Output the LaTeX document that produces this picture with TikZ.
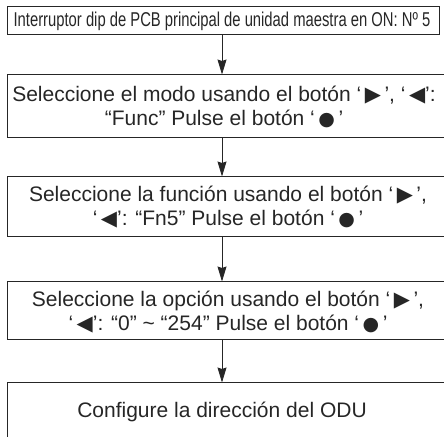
\documentclass[tikz,border=0pt]{standalone}
\usepackage{fontspec}
\setmainfont{Liberation Sans}
\newfontfamily\sym{DejaVu Sans}
\newfontfamily\cond[FakeStretch=0.74]{Liberation Sans}
\usetikzlibrary{arrows.meta}
\colorlet{ink}{black!85}
\tikzset{
  box/.style={draw=ink, line width=1pt, inner sep=0pt},
  txt/.style={text=ink, align=center, font=\fontsize{21}{24.5}\selectfont, inner sep=0pt},
  arr/.style={draw=ink, line width=0.9pt, -{Stealth[length=15pt,width=9pt,inset=1.5pt]}}
}
\newcommand{\rt}{\,{\sym\fontsize{21}{21}\selectfont\char"25B6}\,}
\newcommand{\lt}{\,{\sym\fontsize{21}{21}\selectfont\char"25C0}}
\newcommand{\dt}{\,{\sym\fontsize{19}{19}\selectfont\char"25CF}\,}
\begin{document}
\begin{tikzpicture}[x=1pt,y=1pt]
\useasboundingbox (0,0) rectangle (444,436);
\clip (0,0) rectangle (444,436);
\node[box, minimum width=432pt, minimum height=28pt] (b1) at (223,415) {};
\node[box, minimum width=450pt, minimum height=63pt] (b2) at (232,329.5) {};
\node[box, minimum width=450pt, minimum height=60pt] (b3) at (232,229) {};
\node[box, minimum width=450pt, minimum height=58pt] (b4) at (232,125) {};
\node[box, minimum width=450pt, minimum height=80pt] (b5) at (232,13) {};
\node[txt, font=\cond\fontsize{20}{22}\selectfont] (t1) at (222,415) {Interruptor dip de PCB principal de unidad maestra en ON: Nº 5};
\node[txt] (t2) at (224,329) {Seleccione el modo usando el botón ‘\rt’, ‘\lt’:\\“Func” Pulse el botón ‘\dt’};
\node[txt] (t3) at (228,229) {Seleccione la función usando el botón ‘\rt’,\\‘\lt’: “Fn5” Pulse el botón ‘\dt’};
\node[txt] (t4) at (228,124) {Seleccione la opción usando el botón ‘\rt’,\\‘\lt’: “0” \textasciitilde{} “254” Pulse el botón ‘\dt’};
\node[txt, anchor=base] (t5) at (222,18) {Configure la dirección del ODU};
\draw[arr] (t1 |- b1.south) -- (t1 |- b2.north);
\draw[arr] (t1 |- b2.south) -- (t1 |- b3.north);
\draw[arr] (t1 |- b3.south) -- (t1 |- b4.north);
\draw[arr] (t1 |- b4.south) -- (t1 |- b5.north);
\end{tikzpicture}
\end{document}
